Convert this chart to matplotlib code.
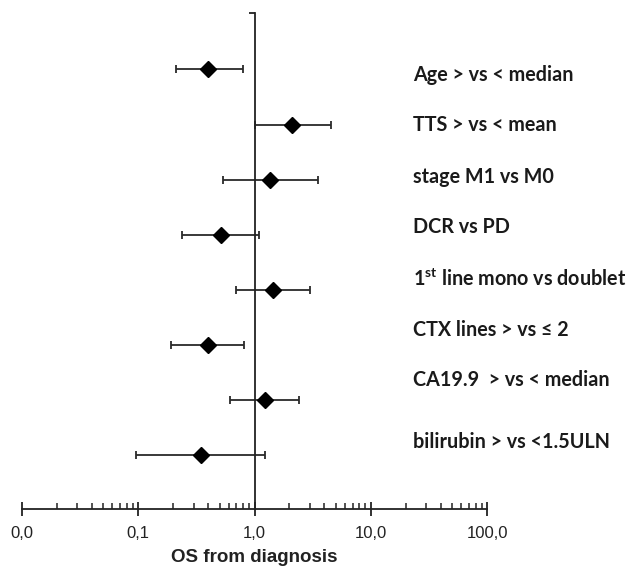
import matplotlib
matplotlib.use("Agg")
import matplotlib.pyplot as plt
from matplotlib.ticker import LogLocator, FixedLocator, NullFormatter

# Forest plot data (hazard ratios, 95% CI)
factors = [
    "Age > vs < median",
    "TTS > vs < mean",
    "stage M1 vs M0",
    "DCR vs PD",
    r"1$^{\rm st}$ line mono vs doublet",
    "CTX lines > vs \u2264 2",
    "CA19.9  > vs < median",
    "bilirubin > vs <1.5ULN",
]
hr = [0.40, 2.11, 1.37, 0.51, 1.43, 0.40, 1.22, 0.35]
ci_low = [0.21, 1.02, 0.54, 0.24, 0.69, 0.19, 0.62, 0.096]
ci_high = [0.79, 4.55, 3.50, 1.10, 3.00, 0.82, 2.42, 1.24]

tick_values = [0.01, 0.1, 1, 10, 100]
tick_labels = ["0,0", "0,1", "1,0", "10,0", "100,0"]

plt.rcParams["mathtext.fontset"] = "custom"
plt.rcParams["mathtext.rm"] = "Lato:bold"
plt.rcParams["mathtext.bf"] = "Lato:bold"

W, H = 629, 567
fig = plt.figure(figsize=(W / 100, H / 100), dpi=100)
# axes in pixel layout: x 22..487, y 12.7..509 from top
ax = fig.add_axes([22 / W, (H - 509) / H, (487 - 22) / W, (509 - 12.7) / H])

n = len(factors)
ypos = list(range(n, 0, -1))
err = [[h - l for h, l in zip(hr, ci_low)], [u - h for h, u in zip(hr, ci_high)]]

ax.errorbar(hr, ypos, xerr=err, fmt="none", ecolor="#2a2a2a", elinewidth=1.3,
            capsize=3, capthick=1.3)
ax.plot(hr, ypos, "D", color="black", markersize=8, linestyle="none")

ax.set_xscale("log")
ax.set_xlim(0.01, 100)
ax.set_ylim(0.02, 9.03)

for s in ["top", "right"]:
    ax.spines[s].set_visible(False)
ax.spines["left"].set_position(("data", 1))
ax.spines["left"].set_color("#222222")
ax.spines["left"].set_linewidth(1.3)
ax.spines["bottom"].set_color("#222222")
ax.spines["bottom"].set_linewidth(1.3)

ax.set_yticks([9.03])
ax.set_yticklabels([])
ax.tick_params(axis="y", length=4, width=1.3, color="#222222", direction="out")

ax.xaxis.set_major_locator(FixedLocator(tick_values))
ax.set_xticklabels(tick_labels, fontfamily="Liberation Sans", fontsize=12, color="#222222")
ax.xaxis.set_minor_locator(LogLocator(base=10, subs=range(2, 10)))
ax.xaxis.set_minor_formatter(NullFormatter())
ax.tick_params(axis="x", which="major", direction="inout", length=10, width=1.3,
               color="#222222", pad=7)
ax.tick_params(axis="x", which="minor", direction="in", length=4, width=1.1,
               color="#222222")

ax.set_xlabel("OS from diagnosis", fontfamily="Liberation Sans", fontweight="bold",
              fontsize=13.5, color="#222222", labelpad=6)

# factor labels on the right
label_y = [75, 125, 177, 227, 279, 330, 380, 442]
for txt, py in zip(factors, label_y):
    fig.text(413 / W, (H - py) / H, txt, ha="left", va="center",
             fontfamily=["Lato", "DejaVu Sans"], fontweight="bold",
             fontsize=14.2, color="#1a1a1a")

fig.savefig("out.png", dpi=100, facecolor="white")
